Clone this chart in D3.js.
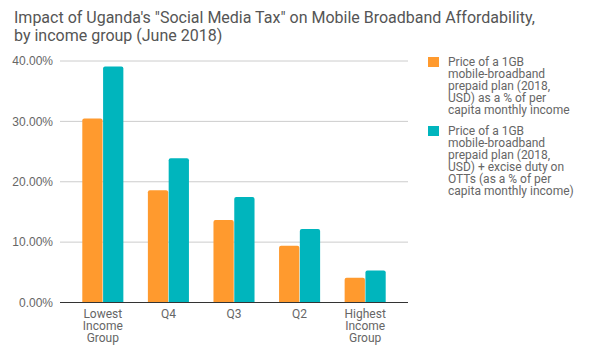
<!DOCTYPE html>
<html lang="en">
<head>
<meta charset="UTF-8">
<title>Uganda social media tax - broadband affordability</title>
<script src="https://d3js.org/d3.v7.min.js"></script>
<style>
html, body { margin: 0; padding: 0; background: white; }
body { font-family: Roboto, sans-serif; }
.title { font-size: 16px; fill: #555; }
.y-axis text, .x-label { font-size: 12px; fill: #666; }
.legend-text { font-size: 12px; fill: #666; }
</style>
</head>
<body>
<div id="chart"></div>
<script>

// --------------------------------------
// Data
// --------------------------------------

const groups = ["Lowest Income Group", "Q4", "Q3", "Q2", "Highest Income Group"];
const groupLines = [["Lowest", "Income", "Group"], ["Q4"], ["Q3"], ["Q2"], ["Highest", "Income", "Group"]];
const priceOnly = [30.4, 18.5, 13.6, 9.3, 4.0];
const priceWithOtt = [39.0, 23.8, 17.4, 12.1, 5.2];
const yTicks = [0, 10, 20, 30, 40];

const seriesNames = [
  ["Price of a 1GB", "mobile-broadband", "prepaid plan (2018,", "USD) as a % of per", "capita monthly income"],
  ["Price of a 1GB", "mobile-broadband", "prepaid plan (2018,", "USD) + excise duty on", "OTTs (as a % of per", "capita monthly income)"]
];
const colors = ["#ff9a2e", "#00b5bd"];

// --------------------------------------
// Size
// --------------------------------------

let totalWidth = 600, totalHeight = 351;
let plot = {left: 60, right: 408, top: 60.5, bottom: 302};

let svg = d3.select("#chart").append("svg")
  .attr("width", totalWidth)
  .attr("height", totalHeight);

// title
svg.append("text").attr("class", "title")
  .attr("x", 14).attr("y", 23)
  .text("Impact of Uganda's \"Social Media Tax\" on Mobile Broadband Affordability,");
svg.append("text").attr("class", "title")
  .attr("x", 14).attr("y", 41)
  .text("by income group (June 2018)");

// --------------------------------------
// Scales
// --------------------------------------

let x = d3.scaleBand()
  .domain(groups)
  .range([plot.left, plot.right])
  .paddingInner(0.374)
  .paddingOuter(0.34);

let x1 = d3.scaleBand()
  .domain([0, 1])
  .range([0, x.bandwidth()])
  .paddingInner(0.025);

let y = d3.scaleLinear()
  .domain([0, 40])
  .range([plot.bottom, plot.top]);

// --------------------------------------
// Axes
// --------------------------------------

let yAxis = svg.append("g")
  .attr("class", "y-axis")
  .attr("transform", `translate(${plot.left},0)`)
  .call(d3.axisLeft(y)
    .tickValues(yTicks)
    .tickSize(-(plot.right - plot.left))
    .tickPadding(7)
    .tickFormat(d => d3.format(".2f")(d) + "%"));

yAxis.select(".domain").remove();
yAxis.selectAll("line").attr("stroke", "#ccc");
yAxis.selectAll("text").attr("dy", "0.35em");

// --------------------------------------
// Bars
// --------------------------------------

let rows = groups.map((g, i) => ({group: g, values: [priceOnly[i], priceWithOtt[i]]}));

let groupG = svg.selectAll(".grp")
  .data(rows)
  .join("g")
  .attr("class", "grp")
  .attr("transform", d => `translate(${x(d.group)},0)`);

groupG.selectAll("path")
  .data(d => d.values.map((v, k) => ({k: k, v: v})))
  .join("path")
  .attr("fill", d => colors[d.k])
  .attr("d", d => {
    let x0 = x1(d.k), w = x1.bandwidth();
    let top = y(d.v), bot = y(0), r = 2;
    return `M${x0},${bot}V${top + r}Q${x0},${top} ${x0 + r},${top}H${x0 + w - r}Q${x0 + w},${top} ${x0 + w},${top + r}V${bot}Z`;
  });

// baseline
svg.append("line")
  .attr("x1", plot.left).attr("x2", plot.right)
  .attr("y1", y(0) + 0.5).attr("y2", y(0) + 0.5)
  .attr("stroke", "#333").attr("stroke-width", 1);

// x labels
groups.forEach((g, i) => {
  let t = svg.append("text").attr("class", "x-label")
    .attr("text-anchor", "middle")
    .attr("x", x(g) + x.bandwidth() / 2)
    .attr("y", 318);
  groupLines[i].forEach((line, j) => {
    t.append("tspan").attr("x", x(g) + x.bandwidth() / 2)
      .attr("dy", j === 0 ? 0 : 12).text(line);
  });
});

// --------------------------------------
// Legend
// --------------------------------------

let legendTops = [56, 125];
seriesNames.forEach((lines, i) => {
  let lg = svg.append("g").attr("transform", `translate(428,${legendTops[i]})`);
  lg.append("rect")
    .attr("x", 0).attr("y", 1)
    .attr("width", 11).attr("height", 10)
    .attr("fill", colors[i]);
  let t = lg.append("text").attr("class", "legend-text")
    .attr("x", 20).attr("y", 10);
  lines.forEach((line, j) => {
    t.append("tspan").attr("x", 20).attr("dy", j === 0 ? 0 : 12).text(line);
  });
});

</script>
</body>
</html>
